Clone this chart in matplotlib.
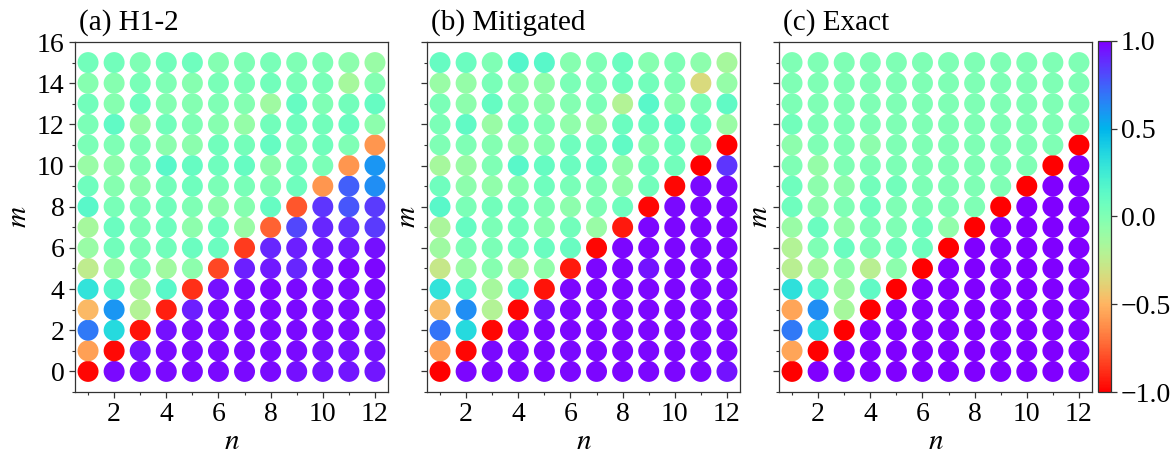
import matplotlib
matplotlib.use("Agg")
import matplotlib.pyplot as plt
import numpy as np

plt.rcParams['font.family'] = ['Liberation Serif', 'DejaVu Serif']
plt.rcParams['mathtext.fontset'] = 'stix'

n_values = [1, 2, 3, 4, 5, 6, 7, 8, 9, 10, 11, 12]
m_values = [0, 1, 2, 3, 4, 5, 6, 7, 8, 9, 10, 11, 12, 13, 14, 15]
x_ticks = [2, 4, 6, 8, 10, 12]
y_ticks = [0, 2, 4, 6, 8, 10, 12, 14, 16]
cbar_ticks = [-1.0, -0.5, 0.0, 0.5, 1.0]
panel_titles = ["(a) H1-2", "(b) Mitigated", "(c) Exact"]

# rows: m = 0 ... 15, columns: n = 1 ... 12
h12_values = [
    [-0.98, 0.97, 0.97, 0.97, 0.97, 0.97, 0.97, 0.97, 0.96, 0.95, 0.94, 0.94],
    [-0.57, -0.97, 0.95, 0.97, 0.97, 0.97, 0.97, 0.97, 0.97, 0.96, 0.96, 0.96],
    [0.68, 0.35, -0.95, 0.96, 0.97, 0.97, 0.97, 0.97, 0.97, 0.97, 0.97, 0.96],
    [-0.48, 0.60, -0.20, -0.92, 0.92, 0.97, 0.97, 0.98, 0.97, 0.97, 0.97, 0.97],
    [0.30, 0.17, -0.15, 0.15, -0.88, 0.96, 0.97, 0.98, 0.97, 0.97, 0.97, 0.97],
    [-0.25, -0.10, 0.00, -0.13, -0.05, -0.82, 0.92, 0.93, 0.90, 0.96, 0.98, 0.98],
    [-0.10, 0.05, 0.02, 0.05, 0.08, 0.08, -0.85, 0.90, 0.92, 0.94, 0.93, 0.96],
    [-0.15, 0.08, 0.02, 0.07, -0.05, 0.07, -0.10, -0.75, 0.82, 0.90, 0.88, 0.85],
    [0.15, 0.03, 0.02, 0.05, 0.00, -0.05, -0.03, 0.10, -0.78, 0.86, 0.78, 0.85],
    [0.07, -0.03, -0.05, 0.04, 0.07, 0.02, 0.03, 0.00, 0.07, -0.60, 0.75, 0.62],
    [-0.10, -0.06, 0.00, 0.15, 0.10, 0.07, 0.10, -0.05, 0.05, 0.02, -0.60, 0.60],
    [0.02, 0.00, 0.00, -0.04, -0.04, 0.06, 0.04, 0.10, 0.02, 0.06, 0.00, -0.60],
    [0.02, 0.12, -0.08, 0.05, 0.00, -0.03, -0.08, 0.05, 0.07, 0.05, 0.08, -0.05],
    [0.05, -0.03, 0.07, -0.02, -0.02, 0.00, -0.02, -0.12, 0.10, 0.00, 0.05, 0.10],
    [-0.03, -0.03, 0.03, 0.00, -0.03, 0.03, 0.02, 0.05, 0.03, 0.03, -0.15, -0.02],
    [0.05, 0.05, 0.00, 0.05, 0.07, -0.02, 0.00, 0.03, 0.00, 0.00, -0.05, -0.10],
]

mitigated_values = [
    [-1.00, 0.98, 0.98, 0.98, 0.98, 0.98, 0.98, 0.98, 0.98, 0.98, 0.98, 0.95],
    [-0.57, -0.98, 0.97, 0.98, 0.98, 0.97, 0.98, 0.98, 0.98, 0.98, 0.98, 0.98],
    [0.70, 0.35, -0.98, 0.98, 0.98, 0.98, 0.98, 0.98, 0.98, 0.98, 0.98, 0.98],
    [-0.47, 0.62, -0.20, -0.98, 0.95, 0.98, 0.98, 0.98, 0.98, 0.98, 0.98, 0.98],
    [0.30, 0.17, -0.15, 0.15, -0.95, 0.98, 0.98, 0.98, 0.98, 0.98, 0.98, 0.98],
    [-0.28, -0.10, -0.03, -0.15, -0.07, -0.93, 0.98, 0.98, 0.95, 0.98, 0.98, 0.98],
    [-0.12, 0.02, 0.02, 0.06, 0.08, 0.09, -0.98, 0.98, 0.98, 0.98, 0.98, 0.98],
    [-0.17, 0.10, 0.02, 0.05, -0.03, 0.05, -0.10, -0.93, 0.98, 0.98, 0.98, 0.98],
    [0.15, 0.02, 0.05, 0.05, 0.00, -0.05, 0.00, 0.07, -0.98, 0.97, 0.98, 0.98],
    [0.07, -0.05, -0.07, -0.03, 0.07, 0.03, 0.00, -0.07, 0.05, -0.98, 0.97, 0.97],
    [-0.15, -0.10, 0.00, 0.15, 0.10, 0.08, 0.10, -0.07, 0.05, 0.05, -1.00, 0.86],
    [0.00, 0.00, -0.02, -0.07, -0.03, 0.07, 0.05, 0.12, -0.02, 0.07, 0.00, -1.00],
    [0.02, 0.12, -0.10, 0.06, 0.00, -0.07, -0.10, 0.08, 0.08, 0.12, 0.07, -0.10],
    [0.02, -0.05, 0.10, -0.03, -0.05, -0.02, 0.02, -0.20, 0.15, -0.03, 0.02, 0.12],
    [-0.10, -0.08, 0.03, -0.05, -0.07, 0.02, 0.00, 0.07, 0.05, 0.00, -0.35, -0.08],
    [0.10, 0.08, 0.00, 0.17, 0.15, -0.03, 0.00, 0.08, -0.03, 0.00, -0.05, -0.15],
]

exact_values = [
    [-1.00, 1.00, 1.00, 1.00, 1.00, 1.00, 1.00, 1.00, 1.00, 1.00, 1.00, 1.00],
    [-0.55, -1.00, 1.00, 1.00, 1.00, 1.00, 1.00, 1.00, 1.00, 1.00, 1.00, 1.00],
    [0.68, 0.33, -1.00, 1.00, 1.00, 1.00, 1.00, 1.00, 1.00, 1.00, 1.00, 1.00],
    [-0.55, 0.62, -0.15, -1.00, 1.00, 1.00, 1.00, 1.00, 1.00, 1.00, 1.00, 1.00],
    [0.32, 0.17, -0.12, 0.12, -1.00, 1.00, 1.00, 1.00, 1.00, 1.00, 1.00, 1.00],
    [-0.22, -0.15, -0.07, -0.22, -0.05, -1.00, 1.00, 1.00, 1.00, 1.00, 1.00, 1.00],
    [-0.20, 0.00, 0.08, 0.02, 0.05, 0.07, -1.00, 1.00, 1.00, 1.00, 1.00, 1.00],
    [-0.10, 0.08, -0.07, 0.02, 0.00, 0.06, -0.07, -1.00, 1.00, 1.00, 1.00, 1.00],
    [0.07, -0.05, 0.00, 0.07, 0.00, 0.01, 0.00, 0.00, -1.00, 1.00, 1.00, 1.00],
    [0.07, -0.05, -0.05, 0.05, 0.05, 0.01, 0.00, 0.00, 0.00, -1.00, 1.00, 1.00],
    [0.00, -0.08, 0.00, 0.01, 0.01, 0.00, 0.00, 0.00, 0.00, 0.00, -1.00, 1.00],
    [-0.05, 0.00, 0.00, -0.05, 0.00, 0.00, 0.00, 0.00, 0.00, 0.00, 0.00, -1.00],
    [0.05, 0.01, 0.01, 0.00, 0.00, 0.00, 0.00, 0.00, 0.00, 0.00, 0.00, 0.00],
    [0.01, 0.00, 0.00, 0.00, 0.00, 0.00, 0.00, 0.00, 0.00, 0.00, 0.00, 0.00],
    [0.00, 0.00, 0.00, 0.00, 0.00, 0.00, 0.00, 0.00, 0.00, 0.00, 0.00, 0.00],
    [0.00, 0.00, 0.00, 0.00, 0.00, 0.00, 0.00, 0.00, 0.00, 0.00, 0.00, 0.00],
]

W, H = 1172, 454
fig = plt.figure(figsize=(W / 100, H / 100), dpi=100)

lefts = [75, 427, 779]
ax_w = 313
ax_top, ax_bot = 42, 392
ax_h = ax_bot - ax_top

NN, MM = np.meshgrid(n_values, m_values)
sc = None
for i, (vals, title) in enumerate(zip([h12_values, mitigated_values, exact_values], panel_titles)):
    ax = fig.add_axes([lefts[i] / W, (H - ax_bot) / H, ax_w / W, ax_h / H])
    sc = ax.scatter(NN.ravel(), MM.ravel(), c=np.array(vals).ravel(), cmap='rainbow_r',
                    vmin=-1, vmax=1, s=228, linewidths=0)
    ax.set_xlim(0.5, 12.5)
    ax.set_ylim(-1, 16)
    ax.set_xticks(x_ticks)
    ax.set_xticks(n_values, minor=True)
    ax.set_yticks(y_ticks)
    ax.set_yticks(list(range(-1, 16, 2)), minor=True)
    if i == 0:
        ax.set_yticklabels([str(t) for t in y_ticks])
    else:
        ax.set_yticklabels([])
    ax.tick_params(axis='both', which='major', labelsize=20, length=4, width=0.9, color='#333333')
    ax.tick_params(axis='both', which='minor', length=2.5, width=0.8, color='#333333')
    ax.set_xlabel('$n$', fontsize=21)
    ax.set_ylabel('$m$', fontsize=21)
    ax.xaxis.set_label_coords(0.5, -(429 - ax_bot) / ax_h)
    if i == 0:
        ax.yaxis.set_label_coords((32 - lefts[i]) / ax_w, 0.5)
    else:
        ax.yaxis.set_label_coords(-6 / ax_w, 0.5)
    ax.text(0.012, 1.018, title, transform=ax.transAxes, fontsize=21,
            ha='left', va='bottom')
    for sp in ax.spines.values():
        sp.set_color('#333333')
        sp.set_linewidth(0.9)

cax = fig.add_axes([1097.5 / W, (H - ax_bot) / H, 13 / W, (ax_bot - 41) / H])
cb = fig.colorbar(sc, cax=cax, ticks=cbar_ticks)
cb.ax.tick_params(labelsize=20, length=4, width=0.9, color='#333333')
cb.outline.set_edgecolor('#333333')
cb.outline.set_linewidth(0.9)

fig.savefig('out.png', dpi=100)
